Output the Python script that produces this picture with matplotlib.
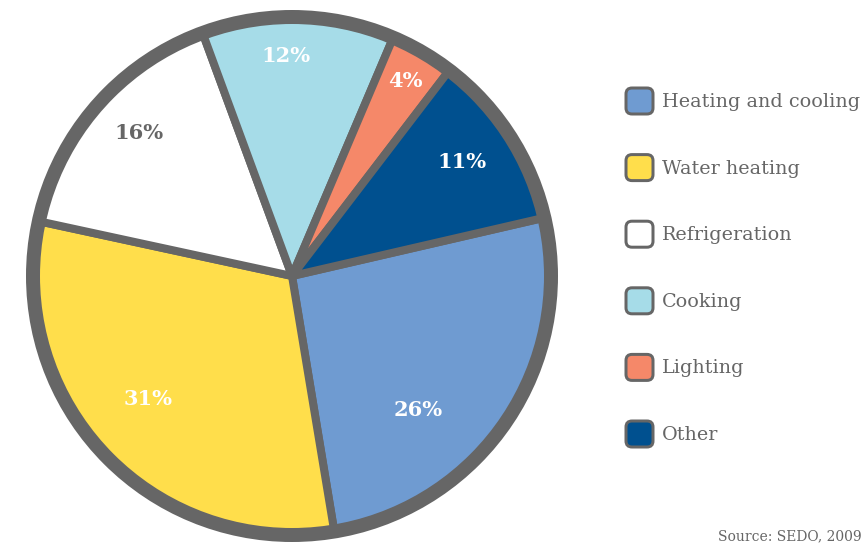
import matplotlib.pyplot as plt
from matplotlib.patches import Circle, FancyBboxPatch
import numpy as np

# energy use by category
categories = ['Heating and cooling', 'Water heating', 'Refrigeration',
              'Cooking', 'Lighting', 'Other']
shares = [26, 31, 16, 12, 4, 11]
colors = ['#6f9bd1', '#ffde4b', '#ffffff', '#a6dce8', '#f58869', '#00508f']
label_colors = ['white', 'white', '#666666', 'white', 'white', 'white']
label_dist = [0.71, 0.73, 0.81, 0.85, 0.87, 0.79]   # radial position of % text
label_shift = [-13, -3, -2, 3, 0, 1]                # nudge from wedge middle (deg)
source = 'Source: SEDO, 2009'

GREY = '#666666'
W, H = 865, 544
fig = plt.figure(figsize=(W/100, H/100), dpi=100)

# pie axes, centred at (292, 276) px from top-left
R = 259.0
half = 280
cx, cy = 292, H - 276
ax = fig.add_axes([(cx-half)/W, (cy-half)/H, 2*half/W, 2*half/H])
wedges, _ = ax.pie(shares, colors=colors, startangle=13, counterclock=False,
                   radius=1.0,
                   wedgeprops=dict(edgecolor=GREY, linewidth=8*0.72,
                                   joinstyle='round'))
ax.add_patch(Circle((0, 0), 1.0, fill=False, edgecolor=GREY,
                    linewidth=14*0.72, zorder=5))
lim = half / R
ax.set_xlim(-lim, lim); ax.set_ylim(-lim, lim)
ax.set_aspect('equal')
ax.axis('off')

for w, s, c, d, sh in zip(wedges, shares, label_colors, label_dist, label_shift):
    mid = np.deg2rad((w.theta1 + w.theta2)/2 + sh)
    ax.text(d*np.cos(mid), d*np.sin(mid), '%d%%' % s, color=c,
            ha='center', va='center', fontsize=15, fontweight='bold',
            family='DejaVu Serif', zorder=6)

# legend drawn in pixel space
lax = fig.add_axes([0, 0, 1, 1])
lax.set_xlim(0, W); lax.set_ylim(H, 0)
lax.axis('off')
for i, (name, col) in enumerate(zip(categories, colors)):
    yc = 101 + i*66.6
    lax.add_patch(FancyBboxPatch((626, yc-13), 27, 26,
                                 boxstyle='round,pad=0,rounding_size=6',
                                 facecolor=col, edgecolor=GREY, linewidth=3*0.72))
    lax.text(662, yc+1, name, color=GREY, fontsize=13.8, family='DejaVu Serif',
             ha='left', va='center')

lax.text(718, 543, source, color=GREY, fontsize=10, family='DejaVu Serif',
         ha='left', va='bottom')

fig.savefig('out.png', dpi=100)
